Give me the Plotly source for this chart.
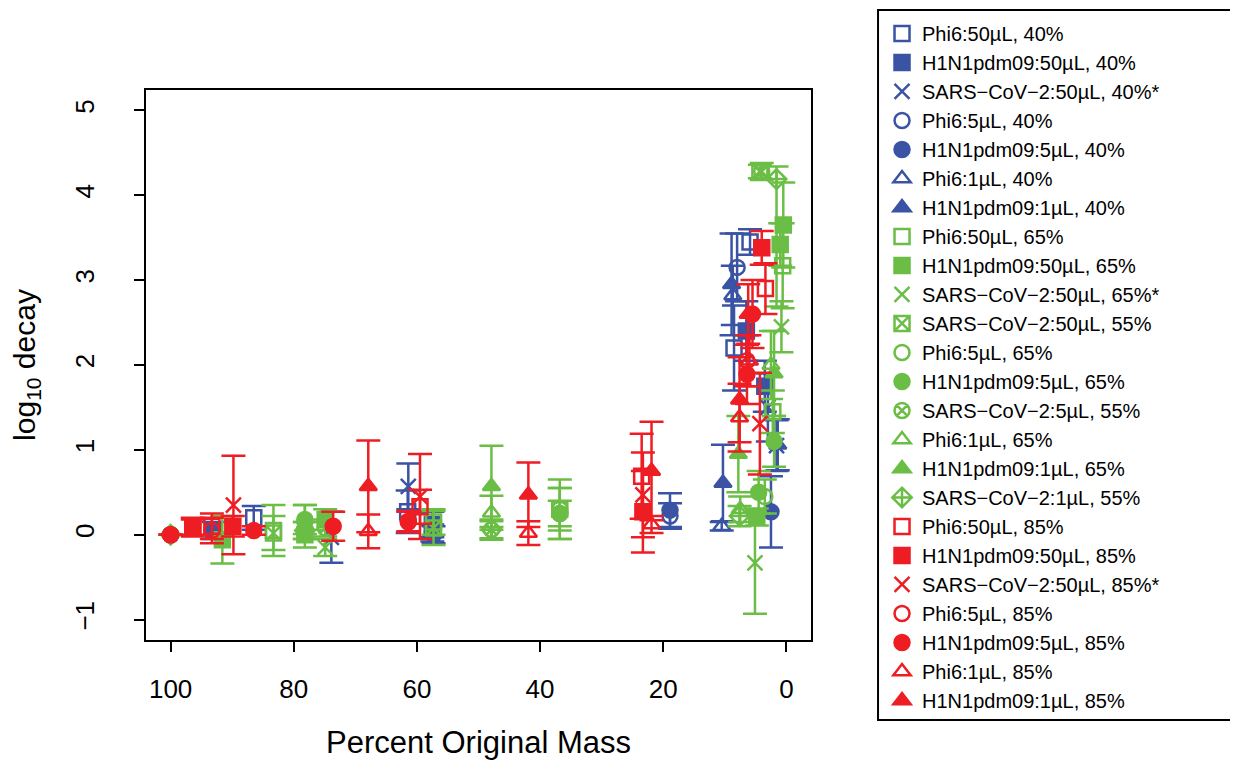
import plotly.graph_objects as go

# ---------------- data ----------------
# 40% RH (blue)
PHI6_50_40_X = [86.5, 61.5, 8.5, 5.9]
PHI6_50_40_Y = [0.20, 0.27, 2.20, 3.45]
PHI6_50_40_E = [0.14, 0.25, 0.50, 0.15]

H1N1_50_40_X = [93.0, 57.5, 6.5, 3.5]
H1N1_50_40_Y = [0.05, 0.12, 2.40, 1.75]
H1N1_50_40_E = [0.10, 0.15, 0.35, 0.30]

SARS_50_40_X = [73.9, 61.4, 3.0, 1.6]
SARS_50_40_Y = [-0.03, 0.57, 1.50, 1.05]
SARS_50_40_E = [0.30, 0.27, 0.40, 0.30]

PHI6_5_40_X = [100, 57.3, 18.9, 8.0]
PHI6_5_40_Y = [0, 0.00, 0.22, 3.15]
PHI6_5_40_E = [None, 0.10, 0.15, 0.40]

H1N1_5_40_X = [100, 57.5, 18.9, 2.5]
H1N1_5_40_Y = [0, 0.02, 0.29, 0.27]
H1N1_5_40_E = [None, 0.10, 0.20, 0.42]

PHI6_1_40_X = [10.5, 8.7]
PHI6_1_40_Y = [0.10, 2.82]
PHI6_1_40_E = [0.05, 0.35]

H1N1_1_40_X = [10.3, 8.9, 1.4]
H1N1_1_40_Y = [0.61, 2.95, 1.06]
H1N1_1_40_E = [0.45, 0.60, 0.30]

# 65% / 55% RH (green)
PHI6_50_65_X = [83.3, 57.3, 36.8, 2.2, 0.6]
PHI6_50_65_Y = [0.05, 0.15, 0.30, 1.45, 3.17]
PHI6_50_65_E = [0.30, 0.15, 0.35, 0.25, 0.50]

H1N1_50_65_X = [91.6, 78.2, 74.9, 4.8, 1.0, 0.5]
H1N1_50_65_Y = [-0.06, 0.00, 0.18, 0.21, 3.42, 3.65]
H1N1_50_65_E = [0.28, 0.15, 0.12, 0.10, 0.25, 0.50]

SARS_50_65_X = [74.9, 5.1, 0.8]
SARS_50_65_Y = [-0.15, -0.33, 2.45]
SARS_50_65_E = [0.10, 0.60, 0.30]

SARS_50_55_X = [83.3, 57.3, 4.3]
SARS_50_55_Y = [0.02, 0.08, 4.28]
SARS_50_55_E = [0.20, 0.20, 0.08]

PHI6_5_65_X = [100, 78.2, 36.8, 3.5]
PHI6_5_65_Y = [0, 0.15, 0.30, 0.45]
PHI6_5_65_E = [None, 0.20, 0.25, 0.20]

H1N1_5_65_X = [100, 78.2, 36.8, 4.5, 2.0]
H1N1_5_65_Y = [0, 0.18, 0.25, 0.50, 1.10]
H1N1_5_65_E = [None, 0.17, 0.30, 0.25, 0.30]

SARS_5_55_X = [74.9, 47.9, 36.8, 4.0]
SARS_5_55_Y = [0.08, 0.06, 0.25, 4.28]
SARS_5_55_E = [0.10, 0.10, 0.15, 0.10]

PHI6_1_65_X = [47.9, 7.5, 2.5]
PHI6_1_65_Y = [0.26, 0.30, 2.00]
PHI6_1_65_E = [0.20, 0.15, 0.40]

H1N1_1_65_X = [47.9, 7.8, 2.0]
H1N1_1_65_Y = [0.57, 0.95, 1.90]
H1N1_1_65_E = [0.48, 0.45, 0.50]

SARS_1_55_X = [100, 78.2, 47.9, 7.6, 1.6]
SARS_1_55_Y = [0, 0.05, 0.06, 0.22, 4.19]
SARS_1_55_E = [None, 0.10, 0.12, 0.12, 0.15]
SARS_1_55_EMINUS = [None, 0.10, 0.12, 0.12, 1.50]

# 85% RH (red)
PHI6_50_85_X = [96.4, 93.3, 59.5, 23.5, 3.4]
PHI6_50_85_Y = [0.10, 0.10, 0.33, 0.69, 2.90]
PHI6_50_85_E = [0.10, 0.15, 0.20, 0.50, 0.30]

H1N1_50_85_X = [96.4, 89.9, 23.3, 4.0]
H1N1_50_85_Y = [0.08, 0.10, 0.27, 3.38]
H1N1_50_85_E = [0.10, 0.12, 0.48, 0.20]

SARS_50_85_X = [89.8, 59.5, 23.3, 4.3]
SARS_50_85_Y = [0.35, 0.45, 0.47, 1.31]
SARS_50_85_E = [0.58, 0.50, 0.50, 0.60]

PHI6_5_85_X = [100, 93.3, 61.4, 6.4]
PHI6_5_85_Y = [0, 0.05, 0.15, 2.05]
PHI6_5_85_E = [None, 0.15, 0.12, 0.30]

H1N1_5_85_X = [100, 86.5, 73.6, 61.4, 6.4, 5.5]
H1N1_5_85_Y = [0, 0.05, 0.10, 0.16, 1.89, 2.60]
H1N1_5_85_E = [None, 0.05, 0.17, 0.12, 0.35, 0.40]

PHI6_1_85_X = [67.9, 41.9, 21.9, 7.6, 6.0]
PHI6_1_85_Y = [0.04, 0.02, 0.12, 1.38, 2.05]
PHI6_1_85_E = [0.20, 0.14, 0.10, 0.40, 0.30]

H1N1_1_85_X = [67.9, 41.9, 21.9, 7.6, 6.2]
H1N1_1_85_Y = [0.57, 0.47, 0.75, 1.59, 2.60]
H1N1_1_85_E = [0.54, 0.38, 0.58, 0.50, 0.35]

X_TICKS = [100, 80, 60, 40, 20, 0]
Y_TICKS = [-1, 0, 1, 2, 3, 4, 5]
Y_TICK_TEXT = ["\u22121", "0", "1", "2", "3", "4", "5"]

BLUE = "#3A53A4"
GREEN = "#6BBE45"
RED = "#EE1D24"

SERIES = [
    ("Phi6:50µL, 40%", BLUE, "square-open", PHI6_50_40_X, PHI6_50_40_Y, PHI6_50_40_E, None),
    ("H1N1pdm09:50µL, 40%", BLUE, "square", H1N1_50_40_X, H1N1_50_40_Y, H1N1_50_40_E, None),
    ("SARS−CoV−2:50µL, 40%*", BLUE, "x-thin", SARS_50_40_X, SARS_50_40_Y, SARS_50_40_E, None),
    ("Phi6:5µL, 40%", BLUE, "circle-open", PHI6_5_40_X, PHI6_5_40_Y, PHI6_5_40_E, None),
    ("H1N1pdm09:5µL, 40%", BLUE, "circle", H1N1_5_40_X, H1N1_5_40_Y, H1N1_5_40_E, None),
    ("Phi6:1µL, 40%", BLUE, "triangle-up-open", PHI6_1_40_X, PHI6_1_40_Y, PHI6_1_40_E, None),
    ("H1N1pdm09:1µL, 40%", BLUE, "triangle-up", H1N1_1_40_X, H1N1_1_40_Y, H1N1_1_40_E, None),
    ("Phi6:50µL, 65%", GREEN, "square-open", PHI6_50_65_X, PHI6_50_65_Y, PHI6_50_65_E, None),
    ("H1N1pdm09:50µL, 65%", GREEN, "square", H1N1_50_65_X, H1N1_50_65_Y, H1N1_50_65_E, None),
    ("SARS−CoV−2:50µL, 65%*", GREEN, "x-thin", SARS_50_65_X, SARS_50_65_Y, SARS_50_65_E, None),
    ("SARS−CoV−2:50µL, 55%", GREEN, "square-x-open", SARS_50_55_X, SARS_50_55_Y, SARS_50_55_E, None),
    ("Phi6:5µL, 65%", GREEN, "circle-open", PHI6_5_65_X, PHI6_5_65_Y, PHI6_5_65_E, None),
    ("H1N1pdm09:5µL, 65%", GREEN, "circle", H1N1_5_65_X, H1N1_5_65_Y, H1N1_5_65_E, None),
    ("SARS−CoV−2:5µL, 55%", GREEN, "circle-x-open", SARS_5_55_X, SARS_5_55_Y, SARS_5_55_E, None),
    ("Phi6:1µL, 65%", GREEN, "triangle-up-open", PHI6_1_65_X, PHI6_1_65_Y, PHI6_1_65_E, None),
    ("H1N1pdm09:1µL, 65%", GREEN, "triangle-up", H1N1_1_65_X, H1N1_1_65_Y, H1N1_1_65_E, None),
    ("SARS−CoV−2:1µL, 55%", GREEN, "diamond-cross-open", SARS_1_55_X, SARS_1_55_Y, SARS_1_55_E, SARS_1_55_EMINUS),
    ("Phi6:50µL, 85%", RED, "square-open", PHI6_50_85_X, PHI6_50_85_Y, PHI6_50_85_E, None),
    ("H1N1pdm09:50µL, 85%", RED, "square", H1N1_50_85_X, H1N1_50_85_Y, H1N1_50_85_E, None),
    ("SARS−CoV−2:50µL, 85%*", RED, "x-thin", SARS_50_85_X, SARS_50_85_Y, SARS_50_85_E, None),
    ("Phi6:5µL, 85%", RED, "circle-open", PHI6_5_85_X, PHI6_5_85_Y, PHI6_5_85_E, None),
    ("H1N1pdm09:5µL, 85%", RED, "circle", H1N1_5_85_X, H1N1_5_85_Y, H1N1_5_85_E, None),
    ("Phi6:1µL, 85%", RED, "triangle-up-open", PHI6_1_85_X, PHI6_1_85_Y, PHI6_1_85_E, None),
    ("H1N1pdm09:1µL, 85%", RED, "triangle-up", H1N1_1_85_X, H1N1_1_85_Y, H1N1_1_85_E, None),
]

fig = go.Figure()
for name, color, symbol, xs, ys, err, err_minus in SERIES:
    err_y = dict(type="data", array=err, symmetric=err_minus is None,
                 color=color, thickness=2.5, width=12, visible=True)
    if err_minus is not None:
        err_y["arrayminus"] = err_minus
    fig.add_trace(go.Scatter(
        x=xs, y=ys, mode="markers", name=name, legendgroup=name,
        marker=dict(symbol=symbol, color=color, size=15,
                    line=dict(color=color, width=2.5)),
        error_y=err_y,
    ))

FONT = "Liberation Sans, Arial, sans-serif"
W, H = 1222, 752
ML, MT, PW, PH = 138, 82, 665, 550

fig.update_layout(
    width=W, height=H,
    margin=dict(l=ML, r=W - ML - PW, t=MT, b=H - MT - PH, autoexpand=False),
    paper_bgcolor="white", plot_bgcolor="white",
    font=dict(family=FONT, color="black", size=22),
    showlegend=True,
    legend=dict(
        x=1.1068, y=1.1382, xanchor="left", yanchor="top",
        borderwidth=0, bgcolor="rgba(0,0,0,0)",
        font=dict(size=20, family=FONT), tracegroupgap=0,
        itemwidth=30, maxheight=740,
    ),
    shapes=[dict(
        type="rect", xref="paper", yref="paper",
        x0=1.1008, x1=1.70, y0=-0.1455, y1=1.1455,
        line=dict(color="black", width=2), fillcolor="rgba(0,0,0,0)", layer="below",
    )],
    xaxis=dict(
        range=[104, -4], tickmode="array", tickvals=X_TICKS,
        ticks="outside", ticklen=10, tickwidth=1.5, tickcolor="black",
        showline=True, linecolor="black", linewidth=2, mirror=True,
        showgrid=False, zeroline=False, ticklabelstandoff=15,
        tickfont=dict(size=26),
        title=dict(text="Percent Original Mass", font=dict(size=31), standoff=39),
    ),
    yaxis=dict(
        range=[-1.24, 5.24], tickmode="array", tickvals=Y_TICKS,
        ticktext=Y_TICK_TEXT,
        ticks="outside", ticklen=10, tickwidth=1.5, tickcolor="black",
        showline=True, linecolor="black", linewidth=2, mirror=True,
        showgrid=False, zeroline=False, tickangle=-90, ticklabelstandoff=30,
        tickfont=dict(size=26),
        title=dict(text="log<sub>10</sub> decay", font=dict(size=30), standoff=28),
    ),
)

fig.write_html("out.html")
